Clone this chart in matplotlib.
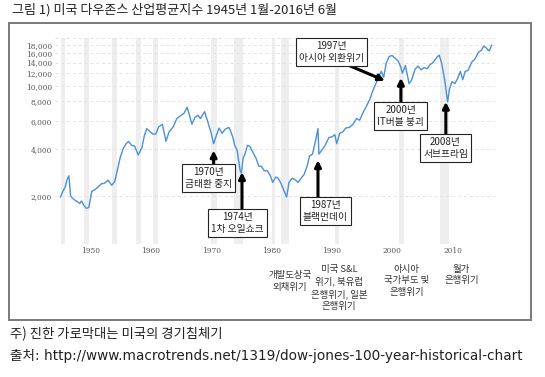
import matplotlib
matplotlib.use("Agg")
import matplotlib.pyplot as plt
from matplotlib.patches import Rectangle

plt.rcParams['font.family'] = ['Noto Sans CJK KR', 'DejaVu Sans']

# ---- data ----
years = [1945.0, 1945.4, 1945.8, 1946.1, 1946.4, 1946.7, 1947.0, 1947.4, 1947.8, 1948.2,
         1948.5, 1948.9, 1949.3, 1949.7, 1950.2, 1950.7, 1951.3, 1951.8, 1952.3, 1952.9,
         1953.5, 1954.0, 1954.5, 1954.9, 1955.4, 1955.9, 1956.3, 1956.8, 1957.3, 1957.9,
         1958.5, 1958.9, 1959.3, 1959.8, 1960.3, 1960.8, 1961.3, 1961.9, 1962.5, 1963.0,
         1963.7, 1964.3, 1965.0, 1965.5, 1966.0, 1966.4, 1966.8, 1967.3, 1967.8, 1968.2,
         1968.9, 1969.5, 1970.0, 1970.4, 1970.9, 1971.3, 1971.8, 1972.3, 1972.9, 1973.1,
         1973.6, 1973.9, 1974.3, 1974.8, 1975.0, 1975.3, 1975.6, 1976.0, 1976.4, 1976.9,
         1977.4, 1977.9, 1978.3, 1978.8, 1979.3, 1979.8, 1980.2, 1980.7, 1981.1, 1981.6,
         1982.0, 1982.5, 1982.9, 1983.4, 1983.9, 1984.4, 1984.9, 1985.4, 1985.9, 1986.3,
         1986.8, 1987.3, 1987.7, 1987.85, 1988.3, 1988.9, 1989.5, 1990.0, 1990.5, 1990.8,
         1991.3, 1991.8, 1992.3, 1992.9, 1993.5, 1994.1, 1994.6, 1995.2, 1995.8, 1996.3,
         1996.8, 1997.3, 1997.7, 1998.2, 1998.6, 1999.0, 1999.5, 2000.0, 2000.5, 2001.0,
         2001.4, 2001.7, 2002.2, 2002.8, 2003.2, 2003.8, 2004.3, 2004.8, 2005.3, 2005.8,
         2006.3, 2006.8, 2007.4, 2007.8, 2008.2, 2008.7, 2009.2, 2009.5, 2009.9, 2010.4,
         2010.9, 2011.3, 2011.7, 2012.1, 2012.6, 2013.2, 2013.7, 2014.3, 2014.8, 2015.2,
         2015.6, 2015.9, 2016.1, 2016.5]
dow = [1980, 2150, 2300, 2550, 2700, 2000, 1950, 1890, 1850, 1800,
       1870, 1750, 1680, 1700, 2150, 2200, 2300, 2400, 2420, 2530,
       2350, 2480, 3000, 3500, 4000, 4300, 4450, 4200, 4150, 3650,
       4050, 4800, 5350, 5150, 4950, 4950, 5500, 5700, 4450, 5100,
       5500, 6200, 6500, 6700, 7300, 6500, 5700, 6300, 6500, 6200,
       6850, 5800, 5000, 4300, 4900, 5400, 5000, 5300, 5450, 5300,
       4700, 4200, 3900, 2900, 2800, 3500, 3700, 4200, 4150, 3800,
       3500, 3100, 3100, 2900, 2900, 2700, 2450, 2650, 2600, 2400,
       2200, 1980, 2450, 2600, 2550, 2450, 2600, 2750, 3100, 3600,
       3700, 4500, 5350, 3700, 3900, 4200, 4700, 4750, 4900, 4300,
       5000, 5100, 5400, 5450, 5700, 6200, 6050, 6800, 7500, 8200,
       9300, 10300, 11300, 12300, 11300, 13800, 15300, 15500, 14900, 14300,
       13200, 12000, 13400, 10300, 10800, 12700, 13300, 12600, 13000, 12800,
       13600, 14000, 15100, 15600, 13900, 10900, 7900, 9500, 10600, 10300,
       11200, 12300, 10900, 12300, 12500, 14100, 14700, 16200, 16800, 17800,
       17300, 16800, 16600, 18000]

recession_start = [1945.1, 1948.9, 1953.5, 1957.6, 1960.3, 1969.9, 1973.85, 1980.0, 1981.5, 1990.5, 2001.2, 2007.9]
recession_end = [1945.8, 1949.8, 1954.4, 1958.3, 1961.1, 1970.9, 1975.2, 1980.6, 1982.9, 1991.2, 2001.9, 2009.5]

ytick_vals = [2000, 4000, 6000, 8000, 10000, 12000, 14000, 16000, 18000]
ytick_labels = ['2,000', '4,000', '6,000', '8,000', '10,000', '12,000', '14,000', '16,000', '18,000']
xtick_vals = [1950, 1960, 1970, 1980, 1990, 2000, 2010]
xtick_labels = ['1950', '1960', '1970', '1980', '1990', '2000', '2010']

events = ['1970년\n금태환 중지', '1974년\n1차 오일쇼크', '1987년\n블랙먼데이',
          '1997년\n아시아 외환위기', '2000년\nIT버블 붕괴', '2008년\n서브프라임']
box_xy = [(1969.6, 2620), (1974.35, 1360), (1988.9, 1620), (1989.9, 16260), (2001.4, 6430), (2008.85, 4060)]
arrow_from = [(1970.4, 3140), (1975.1, 1630), (1987.7, 1940), (1993.0, 13340), (2001.45, 7780), (2008.9, 4880)]
arrow_to = [(1970.4, 3900), (1975.1, 2840), (1987.7, 3380), (1998.8, 10750), (2001.45, 11200), (2008.9, 7900)]

crisis_labels = ['개발도상국\n외채위기', '미국 S&L\n위기, 북유럽\n은행위기, 일본\n은행위기',
                 '아시아\n국가부도 및\n은행위기', '월가\n은행위기']
crisis_x = [1983.0, 1991.2, 2002.4, 2011.5]
crisis_y = [-0.13, -0.1, -0.1, -0.1]

W, H = 545, 377
fig = plt.figure(figsize=(W / 100, H / 100), dpi=100)

# outer frame
fig.patches.append(Rectangle((9 / W, 1 - 320 / H), (531 - 9) / W, (320 - 23) / H,
                             transform=fig.transFigure, fill=False, ec='#7a7a7a', lw=1.4))

ax = fig.add_axes([55 / W, 1 - 244 / H, 440 / W, 206 / H])
ax.set_yscale('log')
ax.set_xlim(1944.1, 2017.05)
ax.set_ylim(1000, 20000)

for s, e in zip(recession_start, recession_end):
    ax.axvspan(s, e, color='#eeeeee', lw=0, zorder=0)

for v in ytick_vals + [1000, 20000]:
    ax.axhline(v, color='#e2e2e2', lw=0.7, ls=(0, (3, 3)), zorder=1)

ax.plot(years, dow, color='#4a90d9', lw=1.0, zorder=3)

ax.set_yticks(ytick_vals)
ax.set_yticklabels(ytick_labels)
ax.yaxis.set_minor_locator(matplotlib.ticker.NullLocator())
ax.set_xticks(xtick_vals)
ax.set_xticklabels(xtick_labels)
ax.tick_params(axis='both', length=0, labelsize=5.3, colors='#555555', pad=2)
for lab in ax.get_xticklabels() + ax.get_yticklabels():
    lab.set_family('DejaVu Serif')
for sp in ax.spines.values():
    sp.set_visible(False)

for txt, bxy, a0, a1 in zip(events, box_xy, arrow_from, arrow_to):
    ax.annotate('', xy=a1, xytext=a0,
                arrowprops=dict(arrowstyle='-|>', color='black', lw=2.2,
                                mutation_scale=9, shrinkA=0, shrinkB=0), zorder=5)
    ax.text(bxy[0], bxy[1], txt, ha='center', va='center', fontsize=7.0,
            linespacing=1.25, color='#222222', zorder=6,
            bbox=dict(boxstyle='square,pad=0.3', fc='white', ec='#222222', lw=0.8))

for txt, cx, cy in zip(crisis_labels, crisis_x, crisis_y):
    ax.text(cx, cy, txt, transform=ax.get_xaxis_transform(), ha='center', va='top',
            fontsize=6.8, linespacing=1.4, color='#333333')

fig.text(12 / W, 1 - 10 / H, '그림 1) 미국 다우존스 산업평균지수 1945년 1월-2016년 6월',
         ha='left', va='center', fontsize=9.4, color='#222222')
fig.text(10 / W, 1 - 334 / H, '주) 진한 가로막대는 미국의 경기침체기',
         ha='left', va='center', fontsize=9.6, color='#222222')
fig.text(10 / W, 1 - 356 / H, '출처: http://www.macrotrends.net/1319/dow-jones-100-year-historical-chart',
         ha='left', va='center', fontsize=9.8, color='#222222',
         family=['DejaVu Sans', 'Noto Sans CJK KR'])

fig.savefig('out.png', dpi=100)
